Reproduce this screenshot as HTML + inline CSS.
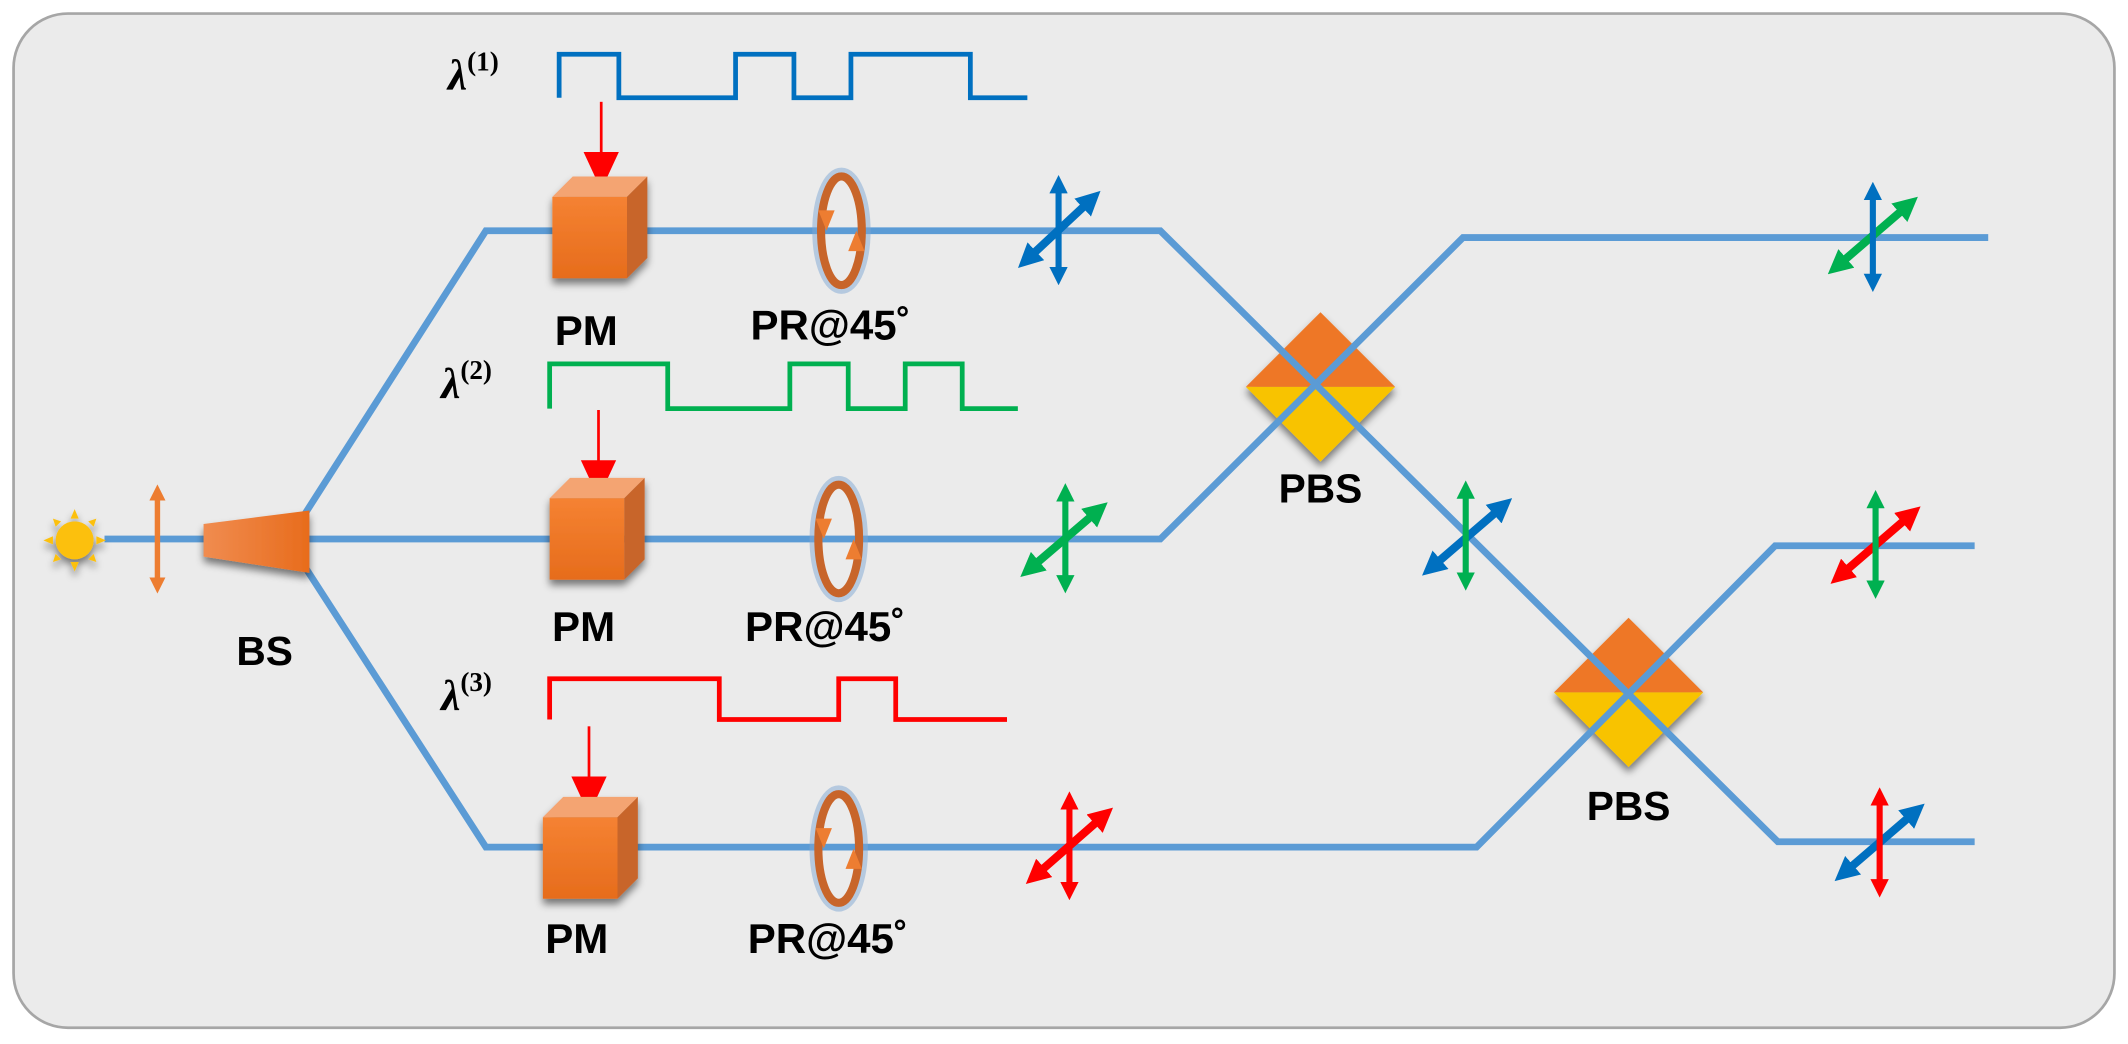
<!DOCTYPE html>
<html><head><meta charset="utf-8"><style>
html,body{margin:0;padding:0;background:#fff;}
svg{display:block;}
text{font-family:"Liberation Sans",Arial,sans-serif;font-weight:bold;fill:#000;}
.lam{font-family:"Liberation Serif",serif;font-weight:bold;}
</style></head><body>
<svg width="2128" height="1044" viewBox="0 0 1568 769" preserveAspectRatio="none" xmlns="http://www.w3.org/2000/svg">
<defs>
<marker id="mb" viewBox="0 0 10 10" refX="4" refY="5" markerWidth="3" markerHeight="3" orient="auto-start-reverse"><path d="M0,0L10,5L0,10z" fill="#0070c0"/></marker>
<marker id="mg" viewBox="0 0 10 10" refX="4" refY="5" markerWidth="3" markerHeight="3" orient="auto-start-reverse"><path d="M0,0L10,5L0,10z" fill="#00b050"/></marker>
<marker id="mr" viewBox="0 0 10 10" refX="4" refY="5" markerWidth="3" markerHeight="3" orient="auto-start-reverse"><path d="M0,0L10,5L0,10z" fill="#ff0000"/></marker>
<marker id="mo" viewBox="0 0 10 10" refX="4" refY="5" markerWidth="3" markerHeight="3" orient="auto-start-reverse"><path d="M0,0L10,5L0,10z" fill="#ed7d31"/></marker>
<linearGradient id="bsg" x1="0" x2="1"><stop offset="0" stop-color="#f08c50"/><stop offset="1" stop-color="#e86c1c"/></linearGradient>
<linearGradient id="pmf" x1="0" y1="0" x2="0" y2="1"><stop offset="0" stop-color="#f58232"/><stop offset="1" stop-color="#e66c1c"/></linearGradient>
<filter id="sh" x="-30%" y="-30%" width="160%" height="160%"><feGaussianBlur in="SourceAlpha" stdDeviation="3"/><feOffset dx="0" dy="4"/><feComponentTransfer><feFuncA type="linear" slope="0.5"/></feComponentTransfer><feMerge><feMergeNode/><feMergeNode in="SourceGraphic"/></feMerge></filter>
</defs>
<rect x="10" y="10" width="1548" height="747" rx="40" fill="#ebebeb" stroke="#a6a6a6" stroke-width="2"/>

<!-- PBS -->
<g filter="url(#sh)">
<polygon points="973,230 1028,285 918,285" fill="#ee7725"/>
<polygon points="918,285 1028,285 973,340" fill="#f8c300"/>
</g>
<g filter="url(#sh)">
<polygon points="1200,455 1255,510 1145,510" fill="#ee7725"/>
<polygon points="1145,510 1255,510 1200,565" fill="#f8c300"/>
</g>

<!-- beams -->
<g fill="none" stroke="#5b9bd5" stroke-width="5">
<polyline points="77,397 855,397 1078,175 1465,175"/>
<polyline points="225,378 358,170 855,170 1310,620 1455,620"/>
<polyline points="225,418 358,624 1088,624 1308,402 1455,402"/>
</g>

<!-- source -->
<g filter="url(#sh)">
<circle cx="55" cy="398" r="14" fill="#fcc010"/>
<g fill="#fcc010">
<polygon points="55,375 52,382 58,382"/><polygon points="55,421 52,414 58,414"/>
<polygon points="32,398 39,395 39,401"/><polygon points="78,398 71,395 71,401"/>
<polygon points="39,382 45,384 41,388"/><polygon points="71,382 65,384 69,388"/>
<polygon points="39,414 45,412 41,408"/><polygon points="71,414 65,412 69,408"/>
</g></g>
<line x1="116" y1="364" x2="116" y2="430" stroke="#ed7d31" stroke-width="4" marker-start="url(#mo)" marker-end="url(#mo)"/>
<polygon points="150,386 228,376 228,422 150,410" fill="url(#bsg)" filter="url(#sh)"/>
<text x="195" y="490" font-size="30" text-anchor="middle">BS</text>

<!-- waveforms -->
<text class="lam" x="330" y="66" font-size="32"><tspan font-style="italic">λ</tspan><tspan font-size="20" dy="-14">(1)</tspan></text>
<text class="lam" x="325" y="293" font-size="32"><tspan font-style="italic">λ</tspan><tspan font-size="20" dy="-14">(2)</tspan></text>
<text class="lam" x="325" y="523" font-size="32"><tspan font-style="italic">λ</tspan><tspan font-size="20" dy="-14">(3)</tspan></text>
<polyline fill="none" stroke="#0070c0" stroke-width="3.5" points="412,72 412,40 456,40 456,72 542,72 542,40 585,40 585,72 627,72 627,40 715,40 715,72 757,72"/>
<polyline fill="none" stroke="#00b050" stroke-width="3.5" points="405,301 405,268 492,268 492,301 582,301 582,268 625,268 625,301 667,301 667,268 709,268 709,301 750,301"/>
<polyline fill="none" stroke="#ff0000" stroke-width="3.5" points="405,530 405,500 530,500 530,530 618,530 618,500 660,500 660,530 742,530"/>

<!-- red control arrows -->
<g stroke="#ff0000" stroke-width="2" fill="#ff0000">
<line x1="443" y1="75" x2="443" y2="115"/><polygon points="430,112 456,112 443,140" stroke="none"/>
<line x1="441" y1="302" x2="441" y2="342"/><polygon points="428,339 454,339 441,367" stroke="none"/>
<line x1="434" y1="535" x2="434" y2="575"/><polygon points="421,572 447,572 434,600" stroke="none"/>
</g>

<!-- PMs -->
<g filter="url(#sh)">
<g transform="translate(407,130)"><polygon points="0,15 15,0 70,0 55,15" fill="#f4a472"/><polygon points="55,15 70,0 70,60 55,75" fill="#c8652a"/><rect x="0" y="15" width="55" height="60" fill="url(#pmf)"/></g>
<g transform="translate(405,352)"><polygon points="0,15 15,0 70,0 55,15" fill="#f4a472"/><polygon points="55,15 70,0 70,60 55,75" fill="#c8652a"/><rect x="0" y="15" width="55" height="60" fill="url(#pmf)"/></g>
<g transform="translate(400,587)"><polygon points="0,15 15,0 70,0 55,15" fill="#f4a472"/><polygon points="55,15 70,0 70,60 55,75" fill="#c8652a"/><rect x="0" y="15" width="55" height="60" fill="url(#pmf)"/></g>
</g>
<text x="432" y="254" font-size="31" text-anchor="middle">PM</text>
<text x="430" y="472" font-size="31" text-anchor="middle">PM</text>
<text x="425" y="702" font-size="31" text-anchor="middle">PM</text>

<!-- PRs -->
<g fill="none">
<g><ellipse cx="620" cy="170" rx="17" ry="42" stroke="#7fa8d4" stroke-width="9" opacity="0.5"/><ellipse cx="620" cy="170" rx="15" ry="40" stroke="#c8652a" stroke-width="6"/><polygon points="603,155 615,155 609,170" fill="#ed7d31"/><polygon points="625,185 637,185 631,170" fill="#ed7d31"/></g>
<g><ellipse cx="618" cy="397" rx="17" ry="42" stroke="#7fa8d4" stroke-width="9" opacity="0.5"/><ellipse cx="618" cy="397" rx="15" ry="40" stroke="#c8652a" stroke-width="6"/><polygon points="601,382 613,382 607,397" fill="#ed7d31"/><polygon points="623,412 635,412 629,397" fill="#ed7d31"/></g>
<g><ellipse cx="618" cy="625" rx="17" ry="42" stroke="#7fa8d4" stroke-width="9" opacity="0.5"/><ellipse cx="618" cy="625" rx="15" ry="40" stroke="#c8652a" stroke-width="6"/><polygon points="601,610 613,610 607,625" fill="#ed7d31"/><polygon points="623,640 635,640 629,625" fill="#ed7d31"/></g>
</g>
<text x="612" y="250" font-size="31" text-anchor="middle">PR@45˚</text>
<text x="608" y="472" font-size="31" text-anchor="middle">PR@45˚</text>
<text x="610" y="702" font-size="31" text-anchor="middle">PR@45˚</text>

<!-- polarization markers -->
<g stroke-width="4.5">
<line x1="758" y1="190" x2="803" y2="148" stroke="#0070c0" stroke-width="6" marker-start="url(#mb)" marker-end="url(#mb)"/>
<line x1="780" y1="137" x2="780" y2="202" stroke="#0070c0" marker-start="url(#mb)" marker-end="url(#mb)"/>
<line x1="760" y1="418" x2="808" y2="377" stroke="#00b050" stroke-width="6" marker-start="url(#mg)" marker-end="url(#mg)"/>
<line x1="785" y1="364" x2="785" y2="429" stroke="#00b050" marker-start="url(#mg)" marker-end="url(#mg)"/>
<line x1="764" y1="644" x2="812" y2="602" stroke="#ff0000" stroke-width="6" marker-start="url(#mr)" marker-end="url(#mr)"/>
<line x1="788" y1="591" x2="788" y2="655" stroke="#ff0000" marker-start="url(#mr)" marker-end="url(#mr)"/>

<line x1="1355" y1="195" x2="1405" y2="152" stroke="#00b050" stroke-width="6" marker-start="url(#mg)" marker-end="url(#mg)"/>
<line x1="1380" y1="142" x2="1380" y2="207" stroke="#0070c0" marker-start="url(#mb)" marker-end="url(#mb)"/>
<line x1="1056" y1="417" x2="1106" y2="374" stroke="#0070c0" stroke-width="6" marker-start="url(#mb)" marker-end="url(#mb)"/>
<line x1="1080" y1="362" x2="1080" y2="427" stroke="#00b050" marker-start="url(#mg)" marker-end="url(#mg)"/>
<line x1="1357" y1="423" x2="1407" y2="380" stroke="#ff0000" stroke-width="6" marker-start="url(#mr)" marker-end="url(#mr)"/>
<line x1="1382" y1="369" x2="1382" y2="433" stroke="#00b050" marker-start="url(#mg)" marker-end="url(#mg)"/>
<line x1="1360" y1="642" x2="1410" y2="599" stroke="#0070c0" stroke-width="6" marker-start="url(#mb)" marker-end="url(#mb)"/>
<line x1="1385" y1="588" x2="1385" y2="653" stroke="#ff0000" marker-start="url(#mr)" marker-end="url(#mr)"/>
</g>

<text x="973" y="370" font-size="30" text-anchor="middle">PBS</text>
<text x="1200" y="604" font-size="30" text-anchor="middle">PBS</text>
</svg>
</body></html>
